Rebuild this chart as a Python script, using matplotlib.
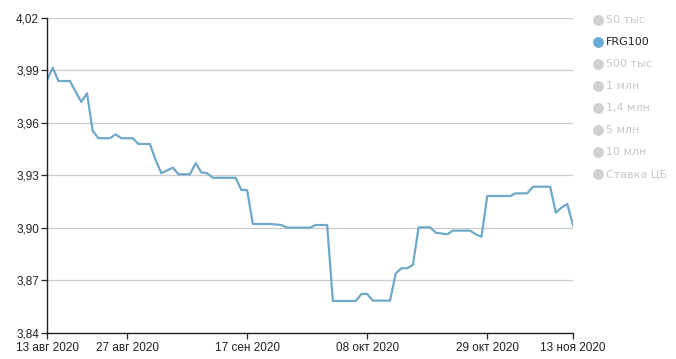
import numpy as np
import pandas as pd
import matplotlib
matplotlib.use("Agg")
import matplotlib.pyplot as plt
from matplotlib.lines import Line2D
from matplotlib.ticker import FuncFormatter

# данные FRG100, по дням с 13 авг 2020
start = "2020-08-13"
frg100 = [
    3.9846, 3.9916, 3.9840, 3.9840, 3.9840, 3.9780, 3.9720, 3.9770, 3.9554, 3.9513,
    3.9513, 3.9513, 3.9535, 3.9513, 3.9513, 3.9513, 3.9480, 3.9480, 3.9480, 3.9389,
    3.9313, 3.9329, 3.9345, 3.9307, 3.9307, 3.9307, 3.9370, 3.9318, 3.9313, 3.9287,
    3.9287, 3.9287, 3.9287, 3.9287, 3.9217, 3.9217, 3.9023, 3.9023, 3.9023, 3.9023,
    3.9020, 3.9017, 3.9002, 3.9002, 3.9002, 3.9002, 3.9002, 3.9017, 3.9017, 3.9017,
    3.8583, 3.8583, 3.8583, 3.8583, 3.8583, 3.8623, 3.8623, 3.8585, 3.8585, 3.8585,
    3.8585, 3.8741, 3.8770, 3.8770, 3.8789, 3.9004, 3.9004, 3.9004, 3.8973, 3.8969,
    3.8964, 3.8985, 3.8985, 3.8985, 3.8985, 3.8964, 3.8950, 3.9183, 3.9183, 3.9183,
    3.9183, 3.9183, 3.9198, 3.9198, 3.9198, 3.9236, 3.9236, 3.9236, 3.9236, 3.9087,
    3.9117, 3.9137, 3.9017,
]
dates = pd.date_range(start, periods=len(frg100), freq="D")

tick_dates = pd.to_datetime(["2020-08-13", "2020-08-27", "2020-09-17",
                             "2020-10-08", "2020-10-29", "2020-11-13"])
tick_labels = ["13 авг 2020", "27 авг 2020", "17 сен 2020",
               "08 окт 2020", "29 окт 2020", "13 ноя 2020"]
y_ticks = [3.84, 3.87, 3.90, 3.93, 3.96, 3.99, 4.02]

legend_names = ["50 тыс", "FRG100", "500 тыс", "1 млн", "1,4 млн",
                "5 млн", "10 млн", "Ставка ЦБ"]
active = "FRG100"

line_color = "#6fa8c8"

plt.rcParams["font.family"] = ["Liberation Sans", "DejaVu Sans"]

fig = plt.figure(figsize=(6.76, 3.59), dpi=100)
ax = fig.add_axes([47 / 676, 26 / 359, 526 / 676, 315 / 359])

ax.plot(dates, frg100, color=line_color, lw=1.6, solid_joinstyle="round")

ax.set_xlim(tick_dates[0], tick_dates[-1])
ax.set_ylim(y_ticks[0], y_ticks[-1])
ax.set_xticks(tick_dates)
ax.set_xticklabels(tick_labels)
ax.set_yticks(y_ticks)
ax.yaxis.set_major_formatter(FuncFormatter(lambda v, p: f"{v:.2f}".replace(".", ",")))

ax.grid(axis="y", color="#cccccc", lw=0.9)
ax.set_axisbelow(True)
for s in ["top", "right"]:
    ax.spines[s].set_visible(False)
for s in ["left", "bottom"]:
    ax.spines[s].set_color("#222222")
    ax.spines[s].set_linewidth(1.0)
ax.tick_params(axis="both", labelsize=8.5, colors="#222222", length=4.3, width=0.9)
ax.tick_params(axis="x", pad=2.5)
ax.tick_params(axis="y", pad=1.5)

# легенда справа
for i, name in enumerate(legend_names):
    y = 1 - (20 + 22 * i) / 359
    on = name == active
    fig.add_artist(Line2D([598 / 676], [y], transform=fig.transFigure, marker="o",
                          markersize=7.8, markeredgewidth=0, linestyle="none",
                          color="#6aaad6" if on else "#d0d0d0"))
    fig.text(606 / 676, y, name, va="center", ha="left", fontsize=8,
             family=["DejaVu Sans"], color="#222222" if on else "#c8c8c8")

fig.savefig("out.png", dpi=100)
